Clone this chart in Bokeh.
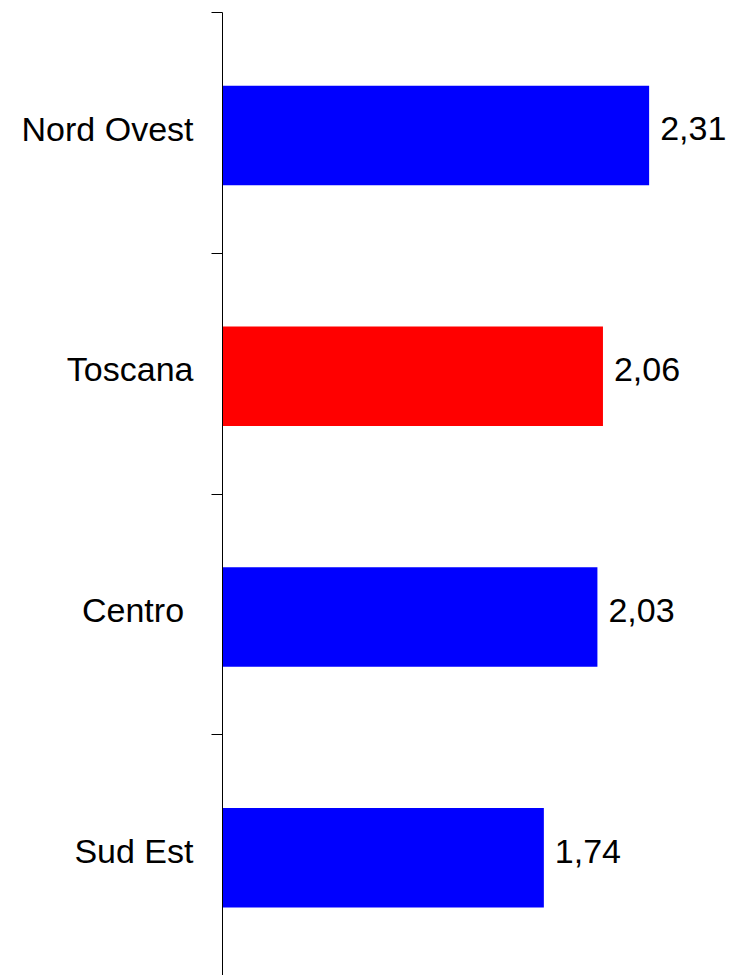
from bokeh.plotting import figure
from bokeh.models import ColumnDataSource, Range1d, FixedTicker
from bokeh.core.properties import value
from bokeh.transform import dodge
from bokeh.embed import file_html
from bokeh.resources import INLINE

categories = ["Nord Ovest", "Toscana", "Centro\u00a0", "Sud Est"]
values = [2.31, 2.06, 2.03, 1.74]
colors = ["#0000FF", "#FF0000", "#0000FF", "#0000FF"]

pos = [i + 0.5 for i in range(len(categories))]
labels = [f"{v:.2f}".replace(".", ",") for v in values]

src = ColumnDataSource(dict(y=pos, v=values, c=colors, lab=labels))

p = figure(width=731, height=975, output_backend="svg", toolbar_location=None,
           x_range=Range1d(0, 2.756), y_range=Range1d(4, 0),
           x_axis_location=None, min_border_left=222, min_border_top=12,
           min_border_bottom=0, min_border_right=0)
p.outline_line_color = None
p.xgrid.visible = False
p.ygrid.visible = False
p.background_fill_color = "white"
p.border_fill_color = "white"

p.hbar(y=dodge("y", 0.011), left=0, right="v", height=0.413, fill_color="c",
       line_color=None, source=src)
p.text(x="v", y="y", text="lab", source=src, x_offset=11, y_offset=-4,
       text_font=value("Liberation Sans"), text_font_size="34px",
       text_baseline="middle", text_align="left", text_color="black")

ax = p.yaxis[0]
ax.ticker = FixedTicker(ticks=[q - 0.018 for q in pos],
                        minor_ticks=list(range(len(categories) + 1)))
ax.major_label_overrides = {q - 0.018: c for q, c in zip(pos, categories)}
ax.major_tick_line_color = None
ax.major_tick_out = 0
ax.major_tick_in = 0
ax.minor_tick_out = 11
ax.minor_tick_in = 0
ax.minor_tick_line_color = "black"
ax.minor_tick_line_width = 1
ax.axis_line_color = "black"
ax.axis_line_width = 1
ax.major_label_standoff = 18
ax.major_label_text_font = "Liberation Sans"
ax.major_label_text_font_size = "34px"
ax.major_label_text_color = "black"

open("out.html", "w").write(file_html(p, INLINE))
